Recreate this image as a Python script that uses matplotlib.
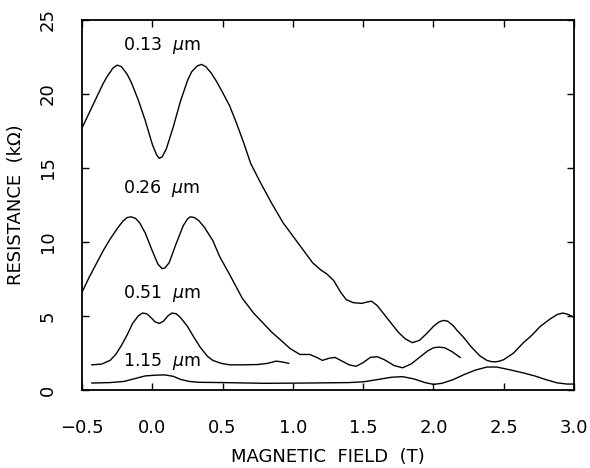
import matplotlib
matplotlib.use("Agg")
import matplotlib.pyplot as plt

plt.rcParams["font.family"] = ["DejaVu Sans"]
plt.rcParams["mathtext.fontset"] = "dejavusans"

# curve data (field in T, resistance in kOhm)
b_013 = [-0.50, -0.45, -0.40, -0.35, -0.32, -0.28, -0.25, -0.22, -0.18, -0.15,
         -0.10, -0.05, 0.00, 0.03, 0.05, 0.07, 0.10, 0.15, 0.20, 0.25,
         0.28, 0.32, 0.35, 0.38, 0.42, 0.46, 0.50, 0.55, 0.60, 0.65,
         0.70, 0.77, 0.85, 0.93, 1.00, 1.07, 1.14, 1.20, 1.24, 1.29,
         1.34, 1.38, 1.43, 1.49, 1.53, 1.56, 1.60, 1.65, 1.70, 1.75,
         1.80, 1.85, 1.90, 1.95, 2.00, 2.04, 2.07, 2.10, 2.14, 2.17,
         2.21, 2.27, 2.33, 2.38, 2.41, 2.44, 2.47, 2.50, 2.57, 2.64,
         2.70, 2.76, 2.83, 2.88, 2.92, 2.96, 3.00]
r_013 = [17.7, 18.7, 19.7, 20.7, 21.2, 21.75, 21.95, 21.85, 21.35, 20.8,
         19.6, 18.2, 16.6, 15.9, 15.65, 15.75, 16.3, 17.8, 19.5, 20.9,
         21.5, 21.9, 22.0, 21.85, 21.4, 20.8, 20.1, 19.2, 18.0, 16.7,
         15.3, 14.0, 12.6, 11.3, 10.4, 9.5, 8.6, 8.1, 7.85, 7.4,
         6.6, 6.1, 5.9, 5.85, 5.95, 6.0, 5.7, 5.1, 4.5, 3.9,
         3.45, 3.2, 3.35, 3.8, 4.3, 4.6, 4.7, 4.65, 4.35, 4.0,
         3.6, 2.9, 2.3, 2.0, 1.92, 1.9, 1.95, 2.05, 2.5, 3.2,
         3.7, 4.3, 4.8, 5.1, 5.2, 5.1, 4.9]

b_026 = [-0.50, -0.45, -0.40, -0.35, -0.30, -0.25, -0.21, -0.18, -0.15, -0.12,
         -0.09, -0.05, 0.00, 0.04, 0.07, 0.09, 0.12, 0.17, 0.22, 0.25,
         0.27, 0.30, 0.33, 0.37, 0.43, 0.48, 0.55, 0.64, 0.72, 0.77,
         0.85, 0.91, 0.98, 1.05, 1.12, 1.17, 1.21, 1.26, 1.30, 1.35,
         1.40, 1.45, 1.50, 1.55, 1.60, 1.65, 1.72, 1.78, 1.84, 1.90,
         1.96, 2.00, 2.04, 2.08, 2.13, 2.19]
r_026 = [6.6, 7.6, 8.5, 9.4, 10.2, 10.9, 11.4, 11.65, 11.7, 11.6,
         11.3, 10.6, 9.4, 8.5, 8.2, 8.25, 8.6, 9.9, 11.1, 11.55,
         11.7, 11.65, 11.45, 11.0, 10.1, 9.0, 7.8, 6.2, 5.2, 4.7,
         3.9, 3.4, 2.8, 2.4, 2.4, 2.2, 2.0, 2.15, 2.2, 1.95,
         1.7, 1.6, 1.85, 2.2, 2.25, 2.05, 1.65, 1.5, 1.75, 2.2,
         2.65, 2.85, 2.9, 2.85, 2.6, 2.2]

b_051 = [-0.43, -0.36, -0.30, -0.26, -0.22, -0.18, -0.14, -0.10, -0.07, -0.04,
         -0.01, 0.02, 0.05, 0.08, 0.11, 0.14, 0.17, 0.20, 0.25, 0.30,
         0.34, 0.39, 0.43, 0.49, 0.55, 0.65, 0.75, 0.82, 0.88, 0.92,
         0.97]
r_051 = [1.7, 1.75, 2.0, 2.4, 3.0, 3.7, 4.5, 5.0, 5.2, 5.15,
         4.9, 4.6, 4.5, 4.65, 5.0, 5.2, 5.15, 4.9, 4.3, 3.5,
         2.9, 2.3, 2.0, 1.8, 1.7, 1.7, 1.72, 1.8, 1.95, 1.9,
         1.8]

b_115 = [-0.43, -0.30, -0.20, -0.12, -0.05, 0.02, 0.09, 0.15, 0.20, 0.26,
         0.33, 0.50, 0.80, 1.10, 1.40, 1.50, 1.60, 1.70, 1.78, 1.86,
         1.94, 2.00, 2.06, 2.14, 2.22, 2.30, 2.38, 2.45, 2.55, 2.64,
         2.72, 2.80, 2.88, 2.95, 3.00]
r_115 = [0.47, 0.5, 0.58, 0.78, 0.95, 1.0, 1.02, 0.92, 0.72, 0.58,
         0.52, 0.5, 0.45, 0.47, 0.5, 0.55, 0.7, 0.86, 0.9, 0.75,
         0.5, 0.38, 0.45, 0.7, 1.05, 1.35, 1.55, 1.55, 1.35, 1.15,
         0.95, 0.7, 0.48, 0.4, 0.4]

labels = ["0.13  $\\mu$m", "0.26  $\\mu$m", "0.51  $\\mu$m", "1.15  $\\mu$m"]
label_x = [-0.21, -0.21, -0.21, -0.21]
label_y = [23.3, 13.6, 6.55, 1.95]

x_ticks = [-0.5, 0.0, 0.5, 1.0, 1.5, 2.0, 2.5, 3.0]
y_ticks = [0, 5, 10, 15, 20, 25]

fig = plt.figure(figsize=(5.9, 4.68), dpi=100)
ax = fig.add_axes([0.139, 0.1667, 0.834, 0.7906])

for b, r in [(b_013, r_013), (b_026, r_026), (b_051, r_051), (b_115, r_115)]:
    ax.plot(b, r, color="black", lw=1.0, solid_joinstyle="round")

for txt, x, y in zip(labels, label_x, label_y):
    ax.text(x, y, txt, fontsize=12.5, va="center", ha="left")

ax.set_xlim(-0.5, 3.0)
ax.set_ylim(0, 25)
ax.set_xticks(x_ticks)
ax.set_yticks(y_ticks)
ax.set_xticklabels(["\u22120.5", "0.0", "0.5", "1.0", "1.5", "2.0", "2.5", "3.0"])

ax.tick_params(direction="in", length=5, width=1, top=True, right=True,
               labelsize=13)
ax.tick_params(axis="x", pad=21)
ax.tick_params(axis="y", pad=18, labelrotation=90)
for lab in ax.get_yticklabels():
    lab.set_va("center")

for s in ax.spines.values():
    s.set_linewidth(1.3)

ax.set_xlabel("MAGNETIC  FIELD  (T)", fontsize=13, labelpad=8)
ax.set_ylabel("RESISTANCE  (k\u03a9)", fontsize=13, labelpad=10)

fig.savefig("out.png", dpi=100)
